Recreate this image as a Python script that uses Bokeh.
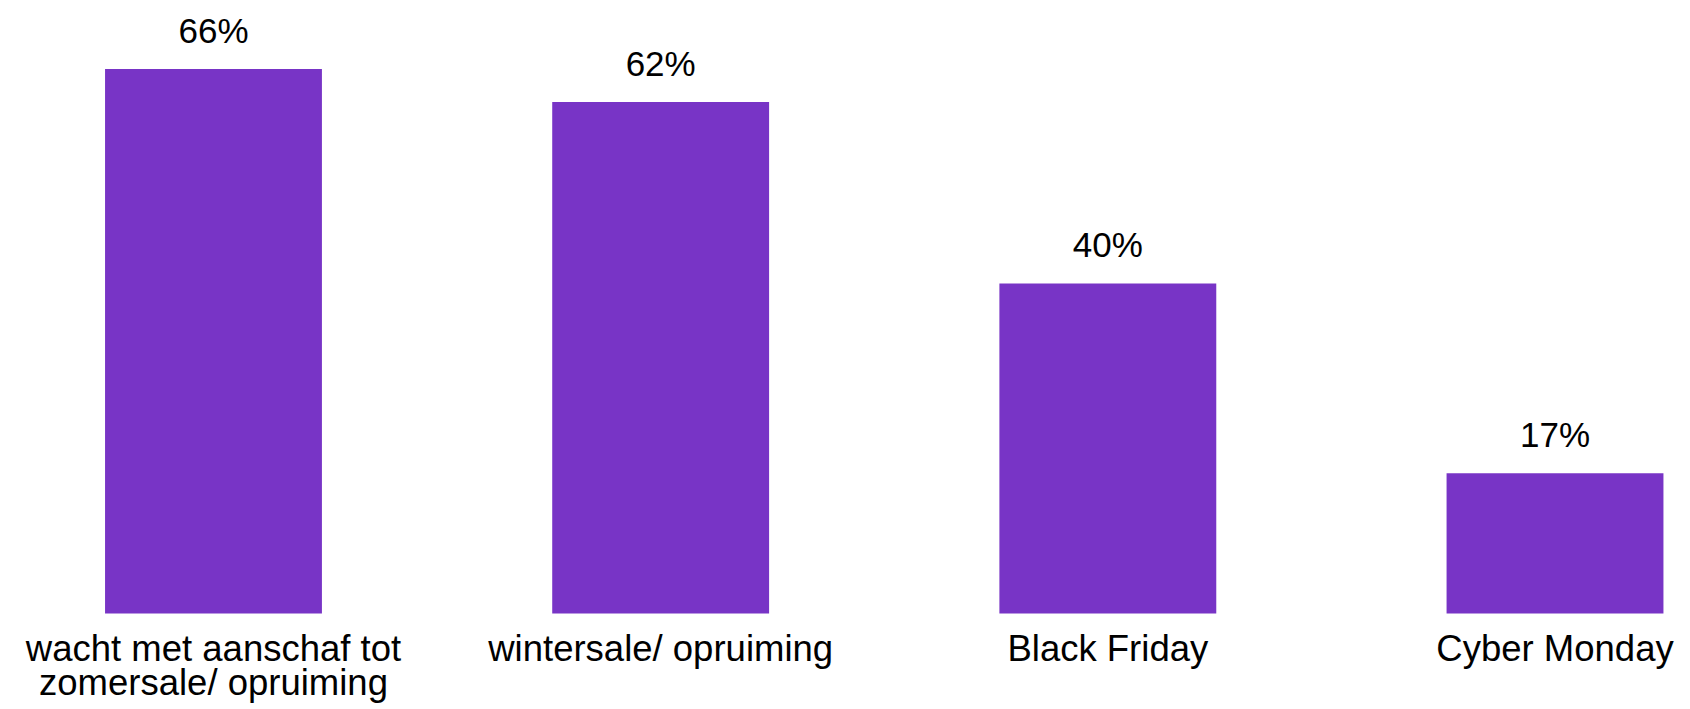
from bokeh.plotting import figure
from bokeh.models import ColumnDataSource, LabelSet, Range1d
from bokeh.core.properties import value
from bokeh.embed import file_html
from bokeh.resources import INLINE

categories = ["wacht met aanschaf tot\nzomersale/ opruiming", "wintersale/ opruiming", "Black Friday", "Cyber Monday"]
values = [66, 62, 40, 17]
value_labels = ["66%", "62%", "40%", "17%"]

FONT = "Liberation Sans"
BAR_COLOR = "#7834C6"

xpos = [i + 0.5 for i in range(len(categories))]
line1 = [c.split("\n")[0] for c in categories]
line2 = [c.split("\n")[1] if "\n" in c else "" for c in categories]
src = ColumnDataSource(dict(x=xpos, cat=categories, val=values, lab=value_labels,
                            l1=line1, l2=line2, base=[0] * len(categories)))

p = figure(width=1690, height=709, x_range=Range1d(0.0237, 3.803), y_range=Range1d(-11.64, 74.3),
           output_backend="svg", toolbar_location=None,
           min_border_left=0, min_border_right=0, min_border_top=0, min_border_bottom=0)

p.vbar(x="x", top="val", bottom=0, width=0.485, source=src, fill_color=BAR_COLOR, line_color=None)

labels = LabelSet(x="x", y="val", text="lab", source=src, y_offset=26,
                  text_align="center", text_baseline="alphabetic",
                  text_font=value(FONT), text_font_size="35px", text_color="#000000")
p.add_layout(labels)

for col, off in (("l1", -48), ("l2", -82)):
    p.add_layout(LabelSet(x="x", y="base", text=col, source=src, y_offset=off,
                          text_align="center", text_baseline="alphabetic",
                          text_font=value(FONT), text_font_size="36.5px", text_color="#000000"))

p.xaxis.visible = False
p.yaxis.visible = False
p.xgrid.visible = False
p.ygrid.visible = False
p.outline_line_color = None
p.background_fill_color = "white"
p.border_fill_color = "white"

open("out.html", "w").write(file_html(p, INLINE))
